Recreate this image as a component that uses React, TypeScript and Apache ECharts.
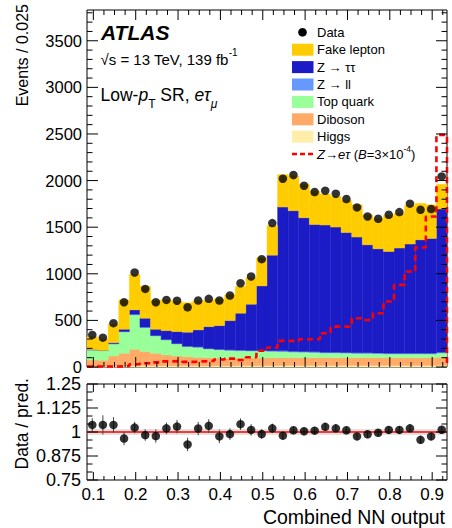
import React, { useEffect, useRef } from 'react';
import * as echarts from 'echarts';

// ---------------- data ----------------
const binEdges = [
  0.085, 0.11, 0.135, 0.16, 0.185, 0.21, 0.235, 0.26, 0.285, 0.31, 0.335, 0.36,
  0.385, 0.41, 0.435, 0.46, 0.485, 0.51, 0.535, 0.56, 0.585, 0.61, 0.635, 0.66,
  0.685, 0.71, 0.735, 0.76, 0.785, 0.81, 0.835, 0.86, 0.885, 0.91, 0.935,
];
const higgs = [8, 8, 10, 12, 14, 14, 12, 12, 12, 12, 12, 12, 12, 12, 14, 14, 14, 15, 16, 16, 16, 16, 16, 16, 16, 16, 16, 16, 16, 16, 16, 16, 16, 18];
const diboson = [67, 64, 108, 135, 176, 151, 135, 117, 106, 99, 92, 88, 86, 84, 82, 82, 82, 83, 84, 84, 84, 84, 84, 84, 84, 84, 84, 84, 84, 84, 84, 84, 84, 87];
const topQuark = [108, 103, 129, 229, 369, 257, 186, 161, 129, 107, 107, 93, 87, 82, 79, 76, 76, 70, 65, 60, 58, 55, 50, 50, 48, 45, 45, 43, 40, 40, 40, 40, 40, 45];
const zll = [2, 2, 4, 5, 7, 6, 5, 5, 5, 5, 5, 5, 5, 6, 6, 6, 6, 7, 8, 8, 8, 8, 8, 8, 8, 8, 8, 8, 8, 8, 8, 8, 8, 8];
const ztautau = [1, 1, 10, 24, 47, 95, 67, 95, 128, 150, 182, 235, 254, 314, 396, 496, 692, 1025, 1543, 1509, 1435, 1366, 1365, 1343, 1287, 1241, 1158, 1117, 1091, 1128, 1171, 1217, 1231, 1537];
const fakeLepton = [139, 122, 199, 315, 382, 342, 310, 330, 325, 317, 312, 282, 286, 277, 288, 286, 300, 315, 349, 373, 359, 356, 332, 329, 342, 346, 319, 322, 386, 374, 416, 390, 361, 265];
const dataCounts = [344, 315, 470, 695, 1014, 838, 695, 720, 711, 641, 713, 731, 713, 767, 899, 971, 1157, 1544, 2020, 2060, 1945, 1877, 1891, 1859, 1802, 1712, 1615, 1590, 1633, 1662, 1752, 1687, 1695, 2045];
const signal = [5, 5, 5, 10, 30, 40, 50, 60, 65, 55, 60, 65, 80, 90, 75, 105, 175, 210, 280, 280, 297, 297, 362, 433, 433, 523, 505, 577, 702, 881, 1024, 1282, 1615, 2490];
const ratio = [1.037, 1.037, 1.037, 0.966, 1.023, 0.984, 0.979, 1.019, 1.028, 0.935, 1.018, 1.032, 0.977, 0.989, 1.041, 1.011, 0.989, 1.019, 0.981, 1.009, 1.004, 1.007, 1.027, 1.019, 1.009, 0.977, 0.988, 0.996, 1.011, 1.011, 1.019, 0.959, 0.977, 1.012];
const ratioErr = [0.035, 0.05, 0.04, 0.035, 0.03, 0.03, 0.035, 0.03, 0.035, 0.035, 0.035, 0.035, 0.035, 0.03, 0.03, 0.03, 0.025, 0.025, 0.02, 0.02, 0.02, 0.02, 0.02, 0.02, 0.02, 0.02, 0.02, 0.02, 0.02, 0.02, 0.02, 0.02, 0.02, 0.02];
const bandHalf = 0.015;

const xMajor = [0.1, 0.2, 0.3, 0.4, 0.5, 0.6, 0.7, 0.8, 0.9];
const yMainMajor = [0, 500, 1000, 1500, 2000, 2500, 3000, 3500];
const yRatioMajor = [0.75, 0.875, 1, 1.125, 1.25];

// ---------------- layout ----------------
const XMIN = 0.085;
const XMAX = 0.935;
const YMAX = 3830;
const RMIN = 0.75;
const RMAX = 1.25;
const FONT = 'Liberation Sans';
const N = dataCounts.length;
const GRID_W = 360;
const MAIN_H = 357;
const RATIO_H = 96;

const COLORS = {
  fake: '#ffcc00',
  ztt: '#1c1cc6',
  zll: '#6699ff',
  top: '#99ff99',
  diboson: '#ffaa66',
  higgs: '#ffeeaa',
  signal: '#ff0000',
};

const xMinor: number[] = [];
for (let k = 0; k <= 33; k++) {
  const v = +(0.1 + k * 0.025).toFixed(4);
  if (v < XMAX && Math.abs(v * 10 - Math.round(v * 10)) > 1e-6) xMinor.push(v);
}
const yMainMinor: number[] = [];
for (let v = 100; v < YMAX; v += 100) if (v % 500 !== 0) yMainMinor.push(v);
const yRatioMinor: number[] = [];
for (let k = 1; k < 12; k++) if (k % 3 !== 0) yRatioMinor.push(RMIN + (k * 0.125) / 3);

// inside ticks mirrored on all four sides, as one broken polyline (NaN gaps)
function tickPoints(yMin: number, yMax: number, plotH: number, yMaj: number[], yMinr: number[], xLenMaj: number, xLenMin: number, yLenMaj: number, yLenMin: number) {
  const kx = (XMAX - XMIN) / GRID_W;
  const ky = (yMax - yMin) / plotH;
  const pts: number[][] = [];
  const seg = (x1: number, y1: number, x2: number, y2: number) => {
    pts.push([x1, y1], [x2, y2], [NaN, NaN]);
  };
  const addX = (v: number, L: number) => {
    seg(v, yMin, v, yMin + L * ky);
    seg(v, yMax - L * ky, v, yMax);
  };
  const addY = (v: number, L: number) => {
    seg(XMIN, v, XMIN + L * kx, v);
    seg(XMAX - L * kx, v, XMAX, v);
  };
  xMajor.forEach((v) => addX(v, xLenMaj));
  xMinor.forEach((v) => addX(v, xLenMin));
  yMaj.forEach((v) => addY(v, yLenMaj));
  yMinr.forEach((v) => addY(v, yLenMin));
  return pts;
}

function tickLineSeries(axisIndex: number, pts: number[][]) {
  return {
    type: 'line', xAxisIndex: axisIndex, yAxisIndex: axisIndex, data: pts, symbol: 'none', showSymbol: false,
    connectNulls: false, clip: false, silent: true, z: 5,
    lineStyle: { color: '#000', width: 1 },
  };
}

function histSeries(name: string, values: number[], bases: number[], color: string) {
  return {
    type: 'custom', name, xAxisIndex: 0, yAxisIndex: 0, silent: true, z: 2,
    data: values.map((v, i) => [binEdges[i], binEdges[i + 1], bases[i], bases[i] + v]),
    encode: { x: [0, 1], y: [2, 3] },
    renderItem: (_p: any, api: any) => {
      const a = api.coord([api.value(0), api.value(3)]);
      const b = api.coord([api.value(1), api.value(2)]);
      return {
        type: 'rect',
        shape: { x: a[0], y: a[1], width: b[0] - a[0], height: b[1] - a[1] },
        style: { fill: color, stroke: color, lineWidth: 0.4 },
      };
    },
  };
}

function buildOption() {
  const comps: [string, number[], string][] = [
    ['Higgs', higgs, COLORS.higgs],
    ['Diboson', diboson, COLORS.diboson],
    ['Top quark', topQuark, COLORS.top],
    ['Z→ll', zll, COLORS.zll],
    ['Z→ττ', ztautau, COLORS.ztt],
    ['Fake lepton', fakeLepton, COLORS.fake],
  ];
  const base = new Array(N).fill(0);
  const stackSeries: any[] = [];
  comps.forEach(([name, vals, color]) => {
    stackSeries.push(histSeries(name, vals, base.slice(), color));
    vals.forEach((v, i) => (base[i] += v));
  });

  const centers = dataCounts.map((_, i) => (binEdges[i] + binEdges[i + 1]) / 2);
  const sigPts: number[][] = [];
  signal.forEach((v, i) => {
    sigPts.push([binEdges[i], v], [binEdges[i + 1], v]);
  });
  sigPts.push([binEdges[N], 0]);

  const legendRows = [
    { kind: 'dot', text: 'Data' },
    { kind: 'box', color: COLORS.fake, text: 'Fake lepton' },
    { kind: 'box', color: COLORS.ztt, text: 'Z → ττ' },
    { kind: 'box', color: COLORS.zll, text: 'Z → ll' },
    { kind: 'box', color: COLORS.top, text: 'Top quark' },
    { kind: 'box', color: COLORS.diboson, text: 'Diboson' },
    { kind: 'box', color: COLORS.higgs, text: 'Higgs' },
    { kind: 'sig', text: '{i|Z}→{i|eτ} ({i|B}=3×10{sup|-4})' },
  ];
  const graphics: any[] = [];
  legendRows.forEach((r, idx) => {
    const y = 32.3 + idx * 17.4;
    if (r.kind === 'dot') {
      graphics.push({ type: 'circle', shape: { cx: 302.5, cy: y, r: 4.3 }, style: { fill: '#000' } });
    } else if (r.kind === 'box') {
      graphics.push({ type: 'rect', shape: { x: 292, y: y - 6, width: 21.5, height: 12 }, style: { fill: r.color } });
    } else {
      graphics.push({ type: 'line', shape: { x1: 292, y1: y, x2: 313.5, y2: y }, style: { stroke: COLORS.signal, lineWidth: 2.5, lineDash: [5, 3] } });
    }
    graphics.push({
      type: 'text', x: 317, y,
      style: {
        text: r.text, fontSize: 13, fontFamily: FONT, fill: '#000', verticalAlign: 'middle', align: 'left',
        lineHeight: 20,
        rich: {
          i: { fontSize: 13, fontFamily: FONT, fontStyle: 'italic', lineHeight: 20 },
          sup: { fontSize: 8.5, fontFamily: FONT, verticalAlign: 'top', lineHeight: 9 },
        },
      },
    });
  });

  graphics.push(
    { type: 'text', x: 101, y: 32.5, style: { text: 'ATLAS', fontSize: 21, fontWeight: 'bold', fontStyle: 'italic', fontFamily: FONT, fill: '#000', verticalAlign: 'middle' } },
    {
      type: 'text', x: 100.5, y: 59,
      style: {
        text: '√s = 13 TeV, 139 fb{sup|-1}', fontSize: 15, fontFamily: FONT, fill: '#000', verticalAlign: 'middle', lineHeight: 24,
        rich: { sup: { fontSize: 10, fontFamily: FONT, verticalAlign: 'top', lineHeight: 12 } },
      },
    },
    {
      type: 'text', x: 100.5, y: 95,
      style: {
        text: 'Low-{i|p}{sub|T} SR, {i|eτ}{subi|μ}', fontSize: 17.5, fontFamily: FONT, fill: '#000', verticalAlign: 'middle', lineHeight: 30,
        rich: {
          i: { fontSize: 17.5, fontFamily: FONT, fontStyle: 'italic', lineHeight: 30 },
          sub: { fontSize: 12, fontFamily: FONT, verticalAlign: 'bottom', lineHeight: 12 },
          subi: { fontSize: 12, fontFamily: FONT, fontStyle: 'italic', verticalAlign: 'bottom', lineHeight: 12 },
        },
      },
    },
    { type: 'text', x: 22, y: 4, rotation: Math.PI / 2, style: { text: 'Events / 0.025', fontSize: 16, fontFamily: FONT, fill: '#000', align: 'right', verticalAlign: 'middle' } },
    { type: 'text', x: 22, y: 378, rotation: Math.PI / 2, style: { text: 'Data / pred.', fontSize: 17.5, fontFamily: FONT, fill: '#000', align: 'right', verticalAlign: 'middle' } },
    { type: 'text', x: 445, y: 517, style: { text: 'Combined NN output', fontSize: 19.5, fontFamily: FONT, fill: '#000', align: 'right', verticalAlign: 'middle' } },
  );

  const plainAxis = {
    axisLine: { show: false }, splitLine: { show: false }, axisTick: { show: false },
  };

  return {
    animation: false,
    backgroundColor: '#fff',
    textStyle: { fontFamily: FONT },
    grid: [
      { left: 87, top: 10, width: GRID_W, height: MAIN_H, show: true, borderColor: '#000', borderWidth: 1, backgroundColor: 'transparent' },
      { left: 87, top: 384, width: GRID_W, height: RATIO_H, show: true, borderColor: '#000', borderWidth: 1, backgroundColor: 'transparent' },
    ],
    xAxis: [
      { type: 'value', gridIndex: 0, min: XMIN, max: XMAX, ...plainAxis, axisLabel: { show: false } },
      {
        type: 'value', gridIndex: 1, min: XMIN, max: XMAX, ...plainAxis,
        axisLabel: { show: true, customValues: xMajor, margin: 6, fontSize: 17, fontFamily: FONT, color: '#000', formatter: (v: number) => String(v) },
      },
    ],
    yAxis: [
      {
        type: 'value', gridIndex: 0, min: 0, max: YMAX, ...plainAxis,
        axisLabel: { show: true, customValues: yMainMajor, margin: 5, fontSize: 16.5, fontFamily: FONT, color: '#000', formatter: (v: number) => String(v) },
      },
      {
        type: 'value', gridIndex: 1, min: RMIN, max: RMAX, ...plainAxis,
        axisLabel: { show: true, customValues: yRatioMajor, margin: 6, fontSize: 18, fontFamily: FONT, color: '#000', formatter: (v: number) => String(v) },
      },
    ],
    series: [
      ...stackSeries,
      {
        type: 'line', name: 'signal', xAxisIndex: 0, yAxisIndex: 0, data: sigPts, showSymbol: false, symbol: 'none', z: 4,
        lineStyle: { color: COLORS.signal, width: 2.6, type: [6, 4] }, silent: true,
      },
      {
        type: 'scatter', name: 'Data', xAxisIndex: 0, yAxisIndex: 0, z: 6,
        data: dataCounts.map((v, i) => [centers[i], v]), symbolSize: 8.5, itemStyle: { color: '#000' }, silent: true,
      },
      {
        type: 'custom', name: 'band', xAxisIndex: 1, yAxisIndex: 1, silent: true, z: 2,
        data: [[XMIN, XMAX, 1 - bandHalf, 1 + bandHalf]],
        encode: { x: [0, 1], y: [2, 3] },
        renderItem: (_p: any, api: any) => {
          const a = api.coord([api.value(0), api.value(3)]);
          const b = api.coord([api.value(1), api.value(2)]);
          return { type: 'rect', shape: { x: a[0], y: a[1], width: b[0] - a[0], height: b[1] - a[1] }, style: { fill: 'rgba(160,160,160,0.3)' } };
        },
      },
      {
        type: 'line', name: 'unity', xAxisIndex: 1, yAxisIndex: 1, data: [[XMIN, 1], [XMAX, 1]], symbol: 'none', z: 3,
        lineStyle: { color: '#ff0000', width: 1.6 }, silent: true,
      },
      {
        type: 'custom', name: 'ratioErr', xAxisIndex: 1, yAxisIndex: 1, silent: true, z: 4,
        data: ratio.map((r, i) => [centers[i], r - ratioErr[i], r + ratioErr[i]]),
        encode: { x: 0, y: [1, 2] },
        renderItem: (_p: any, api: any) => {
          const a = api.coord([api.value(0), api.value(1)]);
          const b = api.coord([api.value(0), api.value(2)]);
          return { type: 'line', shape: { x1: a[0], y1: a[1], x2: b[0], y2: b[1] }, style: { stroke: '#444', lineWidth: 1 } };
        },
      },
      {
        type: 'scatter', name: 'ratio', xAxisIndex: 1, yAxisIndex: 1, z: 6,
        data: ratio.map((r, i) => [centers[i], r]), symbolSize: 8.5, itemStyle: { color: '#000' }, silent: true,
      },
      tickLineSeries(0, tickPoints(0, YMAX, MAIN_H, yMainMajor, yMainMinor, 10, 5, 11, 5.5)),
      tickLineSeries(1, tickPoints(RMIN, RMAX, RATIO_H, yRatioMajor, yRatioMinor, 8, 4, 11, 5.5)),
    ],
    graphic: graphics,
  };
}

export default function App() {
  const ref = useRef<HTMLDivElement>(null);
  useEffect(() => {
    if (!ref.current) return;
    const chart = echarts.init(ref.current, null, { renderer: 'svg' });
    chart.setOption(buildOption() as any);
    return () => chart.dispose();
  }, []);
  return <div ref={ref} style={{ position: 'fixed', left: 0, top: 0, width: 452, height: 528, background: '#fff' }} />;
}
